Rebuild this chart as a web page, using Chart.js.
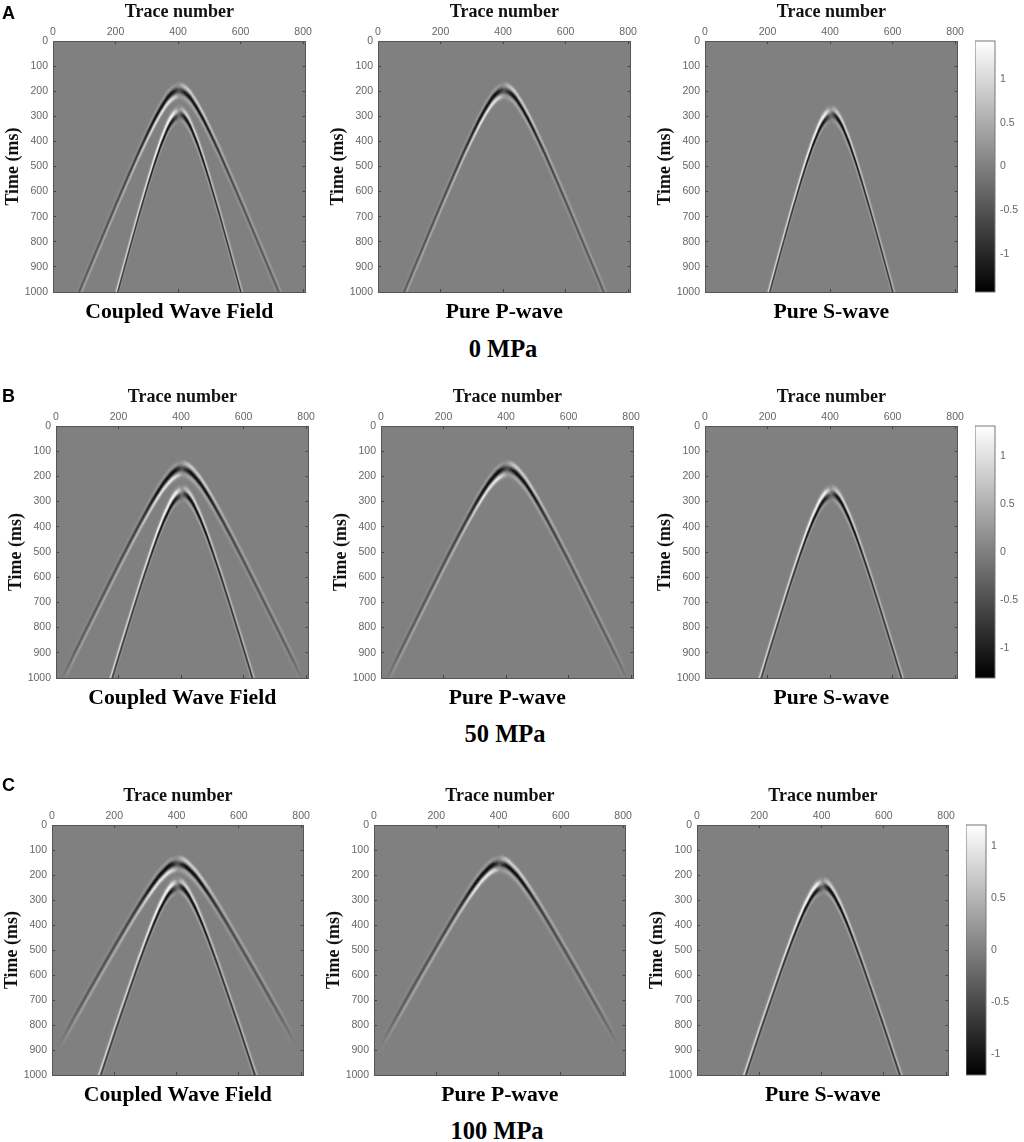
<!DOCTYPE html>
<html>
<head>
<meta charset="utf-8">
<script src="https://cdn.jsdelivr.net/npm/chart.js@4/dist/chart.umd.min.js"></script>
<style>
  body { margin: 0; background: #fff; }
  #page { position: relative; width: 1024px; height: 1142px; overflow: hidden; }
  canvas { position: absolute; filter: blur(0.3px); }
  .letter { position: absolute; font: bold 18px "Liberation Sans"; color: #000; }
  .mpa { position: absolute; width: 200px; text-align: center; font: bold 24.5px "Liberation Serif"; color: #000; }
</style>
</head>
<body>
<div id="page"></div>
<script>
var traceTicks = [0, 200, 400, 600, 800];
var timeTicks = [0, 100, 200, 300, 400, 500, 600, 700, 800, 900, 1000];
var cbarTicks = [-1, -0.5, 0, 0.5, 1];
var rowLetters = ["A", "B", "C"];
var rowPressures = ["0 MPa", "50 MPa", "100 MPa"];
var panelTitles = ["Coupled Wave Field", "Pure P-wave", "Pure S-wave"];
var cbarLimits = [1.43, 1.31, 1.2];

// P front (trace, centre time in ms, relative strength)
var p0Trace = [63,103,153,203,243,273,303,323,343,363,373,383,393,403,413,423,433,443,463,483,503,533,563,603,653,703,743];
var p0Time = [1063,943,795,647,532,447,368,318,273,234,220,209,202,200,202,209,220,234,273,318,368,447,532,647,795,943,1063];
var p0Env = [.28,.33,.38,.42,.5,.6,.8,1,1,1,1,.85,.6,.35,.6,.85,1,1,1,1,.8,.6,.5,.42,.38,.33,.28];
var p50Trace = [18,33,63,103,153,203,243,273,303,323,343,363,373,383,393,403,413,423,433,443,463,483,503,533,563,603,653,703,743,773,788];
var p50Time = [1005,968,892,792,667,543,447,377,310,269,231,201,189,180,174,172,174,180,189,201,231,269,310,377,447,543,667,792,892,968,1005];
var p50Env = [0,.12,.28,.33,.38,.42,.5,.6,.8,1,1,1,1,.85,.6,.35,.6,.85,1,1,1,1,.8,.6,.5,.42,.38,.33,.28,.12,0];
var p100Trace = p50Trace;
var p100Time = [890,856,789,700,590,482,397,335,277,241,208,182,171,163,159,157,159,163,171,182,208,241,277,335,397,482,590,700,789,856,890];
var p100Env = [0,.05,.2,.33,.38,.42,.5,.6,.8,1,1,1,1,.85,.6,.35,.6,.85,1,1,1,1,.8,.6,.5,.42,.38,.33,.2,.05,0];

// S front
var s0Trace = [188,203,243,273,303,323,343,363,373,383,393,403,413,423,433,443,463,483,503,533,563,603,618];
var s0Time = [1075,1005,823,689,562,482,409,348,324,306,294,290,294,306,324,348,409,482,562,689,823,1005,1075];
var s0Env = [.7,.7,.7,.75,.85,1,1.1,1.1,1.1,1,.6,.2,.6,1,1.1,1.1,1.1,1,.85,.75,.7,.7,.7];
var s50Trace = [163,173,203,243,273,303,323,343,363,373,383,393,403,413,423,433,443,463,483,503,533,563,603,633,643];
var s50Time = [1055,1015,892,732,614,503,433,370,317,296,280,270,267,270,280,296,317,370,433,503,614,732,892,1015,1055];
var s50Env = [.7,.7,.7,.7,.75,.85,1,1.1,1.1,1.1,1,.6,.2,.6,1,1.1,1.1,1.1,1,.85,.75,.7,.7,.7,.7];
var s100Trace = [133,153,203,243,273,303,323,343,363,373,383,393,403,413,423,433,443,463,483,503,533,563,603,653,673];
var s100Time = [1075,1001,813,668,560,458,394,336,288,269,254,245,242,245,254,269,288,336,394,458,560,668,813,1001,1075];
var s100Env = [.7,.7,.7,.7,.75,.85,1,1.1,1.1,1.1,1,.6,.2,.6,1,1.1,1.1,1.1,1,.85,.75,.7,.7,.7,.7];

// wavelet shape across a front: delay edges (ms) and amplitude of each band between them
var waveDelays = [-40,-35,-30,-25,-20,-15,-10,-5,0,5,10,15,20,25,30,35,40];
var pLeftAmp = [.05,.15,.25,.1,-.2,-.7,-1.1,-1.1,-.7,-.1,.5,.9,.9,.5,.2,.05];
var pRightAmp = [.2,.5,.7,.6,.2,-.3,-.9,-1.1,-.9,-.4,.1,.3,.35,.2,.1,.05];
var sLeftAmp = [.05,.2,.35,.7,1.1,1.1,.8,.1,-.6,-.9,-.9,-.6,-.2,.15,.2,.1];
var sRightAmp = [.15,.35,.55,.7,.6,.1,-.6,-1,-1,-.7,-.3,.15,.3,.25,.1,.05];

var pFronts = [[p0Trace, p0Time, p0Env], [p50Trace, p50Time, p50Env], [p100Trace, p100Time, p100Env]];
var sFronts = [[s0Trace, s0Time, s0Env], [s50Trace, s50Time, s50Env], [s100Trace, s100Time, s100Env]];

// page layout of the plot boxes
var traceMax = 808, apexTrace = 403;
var rowTop = [41, 426, 825], rowHeight = [251, 252, 250];
var panelLeft = [[53, 378, 705], [56, 381, 705], [52, 374, 697]], panelWidth = [253, 253, 252];
var cbarLeft = [975, 975, 966], cbarWidth = 20;
var letterTop = [3, 386, 775], mpaTop = [335, 720, 1117], mpaCentre = [503, 505, 497];

var tickFont = { family: "Liberation Sans", size: 10.5 };
var tickColor = "#666";
var page = document.getElementById("page");

function setTicks(list) {
  return function (scale) { scale.ticks = list.map(function (v) { return { value: v }; }); };
}
function fixSize(key, size) {
  return function (scale) { scale[key] = size; };
}
function addCanvas(left, top, width, height) {
  var c = document.createElement("canvas");
  c.width = width; c.height = height;
  c.style.left = left + "px"; c.style.top = top + "px";
  c.style.width = width + "px"; c.style.height = height + "px";
  page.appendChild(c);
  return c.getContext("2d");
}
function grayOf(value) {
  var g = Math.max(0, Math.min(255, Math.round(128 + 127 * value)));
  return "rgb(" + g + "," + g + "," + g + ")";
}

// band colour runs along the traces, with the polarity of each side of the apex
function bandColor(front, leftAmp, rightAmp) {
  return function (ctx) {
    var sx = ctx.chart.scales.x;
    if (!ctx.chart.chartArea || !isFinite(sx.left) || !isFinite(sx.right)) return "#808080";
    var g = ctx.chart.ctx.createLinearGradient(sx.left, 0, sx.right, 0);
    front[0].forEach(function (tr, i) {
      var amp = tr < apexTrace ? leftAmp : tr > apexTrace ? rightAmp : (leftAmp + rightAmp) / 2;
      g.addColorStop(tr / traceMax, grayOf(amp * front[2][i]));
    });
    return g;
  };
}
function frontDatasets(front, leftAmps, rightAmps) {
  return waveDelays.map(function (delay, d) {
    var set = {
      data: front[0].map(function (tr, i) { return { x: tr, y: front[1][i] + delay }; }),
      pointRadius: 0, borderWidth: 0, tension: 0, fill: false
    };
    if (d > 0) {
      var color = bandColor(front, leftAmps[d - 1], rightAmps[d - 1]);
      set.fill = "-1";
      set.backgroundColor = color;
      set.borderColor = color;
      set.borderWidth = 0.4;
    }
    return set;
  });
}

var plotBackground = {
  id: "plotBackground",
  beforeDraw: function (chart) {
    var a = chart.chartArea;
    chart.ctx.fillStyle = "#808080";
    chart.ctx.fillRect(a.left, a.top, a.width, a.height);
  }
};
var frame = {
  id: "frame",
  afterDraw: function (chart) {
    var a = chart.chartArea;
    chart.ctx.strokeStyle = "#777";
    chart.ctx.lineWidth = 1;
    chart.ctx.strokeRect(a.left, a.top, a.width, a.height);
  }
};

function panelAxis(extra) {
  var axis = {
    type: "linear",
    grid: { drawOnChartArea: false, tickLength: -3, color: "#444" },
    border: { color: "#555", width: 1 }
  };
  for (var k in extra) axis[k] = extra[k];
  return axis;
}

function drawPanel(row, col) {
  var left = panelLeft[row][col], top = rowTop[row];
  var ctx = addCanvas(left - 50, top - 41, 50 + panelWidth[row] + 12, 41 + rowHeight[row] + 33);
  var sets = [];
  if (col < 2) sets = sets.concat(frontDatasets(pFronts[row], pLeftAmp, pRightAmp));
  if (col != 1) sets = sets.concat(frontDatasets(sFronts[row], sLeftAmp, sRightAmp));
  new Chart(ctx, {
    type: "line",
    data: { datasets: sets },
    plugins: [plotBackground],
    options: {
      responsive: false,
      animation: false,
      plugins: { legend: { display: false }, tooltip: { enabled: false } },
      scales: {
        x: panelAxis({
          position: "top", min: 0, max: traceMax,
          afterBuildTicks: setTicks(traceTicks), afterFit: fixSize("height", 41),
          ticks: { font: tickFont, color: tickColor, padding: 6, maxRotation: 0, autoSkip: false, callback: String },
          title: { display: true, text: "Trace number", color: "#111", padding: { top: 2, bottom: 0 },
                   font: { family: "Liberation Serif", size: 18, weight: "bold" } }
        }),
        xb: panelAxis({
          axis: "x", position: "bottom", min: 0, max: traceMax,
          afterBuildTicks: setTicks(traceTicks), afterFit: fixSize("height", 33),
          ticks: { display: false },
          title: { display: true, text: panelTitles[col], color: "#000", padding: 0,
                   font: { family: "Liberation Serif", size: 21.7, weight: "bold" } }
        }),
        y: panelAxis({
          position: "left", reverse: true, min: 0, max: 1000,
          afterBuildTicks: setTicks(timeTicks), afterFit: fixSize("width", 50),
          ticks: { font: tickFont, color: tickColor, padding: 8, autoSkip: false, callback: String },
          title: { display: true, text: "Time (ms)", color: "#111", padding: 0,
                   font: { family: "Liberation Serif", size: 18, weight: "bold" } }
        }),
        yr: panelAxis({
          axis: "y", position: "right", reverse: true, min: 0, max: 1000,
          afterBuildTicks: setTicks(timeTicks), afterFit: fixSize("width", 12),
          ticks: { display: false }
        })
      }
    }
  });
}

function drawColorbar(row) {
  var limit = cbarLimits[row];
  var ctx = addCanvas(cbarLeft[row], rowTop[row] - 8, cbarWidth + 34, rowHeight[row] + 16);
  new Chart(ctx, {
    type: "bar",
    data: {
      labels: [""],
      datasets: [{
        data: [[-limit, limit]],
        barPercentage: 1, categoryPercentage: 1, borderWidth: 0,
        backgroundColor: function (c) {
          var a = c.chart.chartArea;
          if (!a || !isFinite(a.top) || !isFinite(a.bottom)) return "#808080";
          var g = c.chart.ctx.createLinearGradient(0, a.bottom, 0, a.top);
          g.addColorStop(0, "#000");
          g.addColorStop(1, "#fff");
          return g;
        }
      }]
    },
    plugins: [frame],
    options: {
      responsive: false,
      animation: false,
      layout: { padding: { top: 8, bottom: 8 } },
      plugins: { legend: { display: false }, tooltip: { enabled: false } },
      scales: {
        x: { display: false },
        y: {
          position: "right", min: -limit, max: limit,
          afterBuildTicks: setTicks(cbarTicks),
          afterFit: function (scale) { scale.width = 34; scale.paddingTop = 0; scale.paddingBottom = 0; },
          grid: { drawOnChartArea: false, tickLength: -2, color: "#555" },
          border: { display: false },
          ticks: { font: tickFont, color: tickColor, padding: 7, autoSkip: false, callback: String }
        }
      }
    }
  });
}

function addText(cls, text, left, top) {
  var d = document.createElement("div");
  d.className = cls;
  d.textContent = text;
  d.style.left = left + "px";
  d.style.top = top + "px";
  page.appendChild(d);
}

rowLetters.forEach(function (letter, row) {
  for (var col = 0; col < 3; col++) drawPanel(row, col);
  drawColorbar(row);
  addText("letter", letter, 2, letterTop[row]);
  addText("mpa", rowPressures[row], mpaCentre[row] - 100, mpaTop[row]);
});
</script>
</body>
</html>
